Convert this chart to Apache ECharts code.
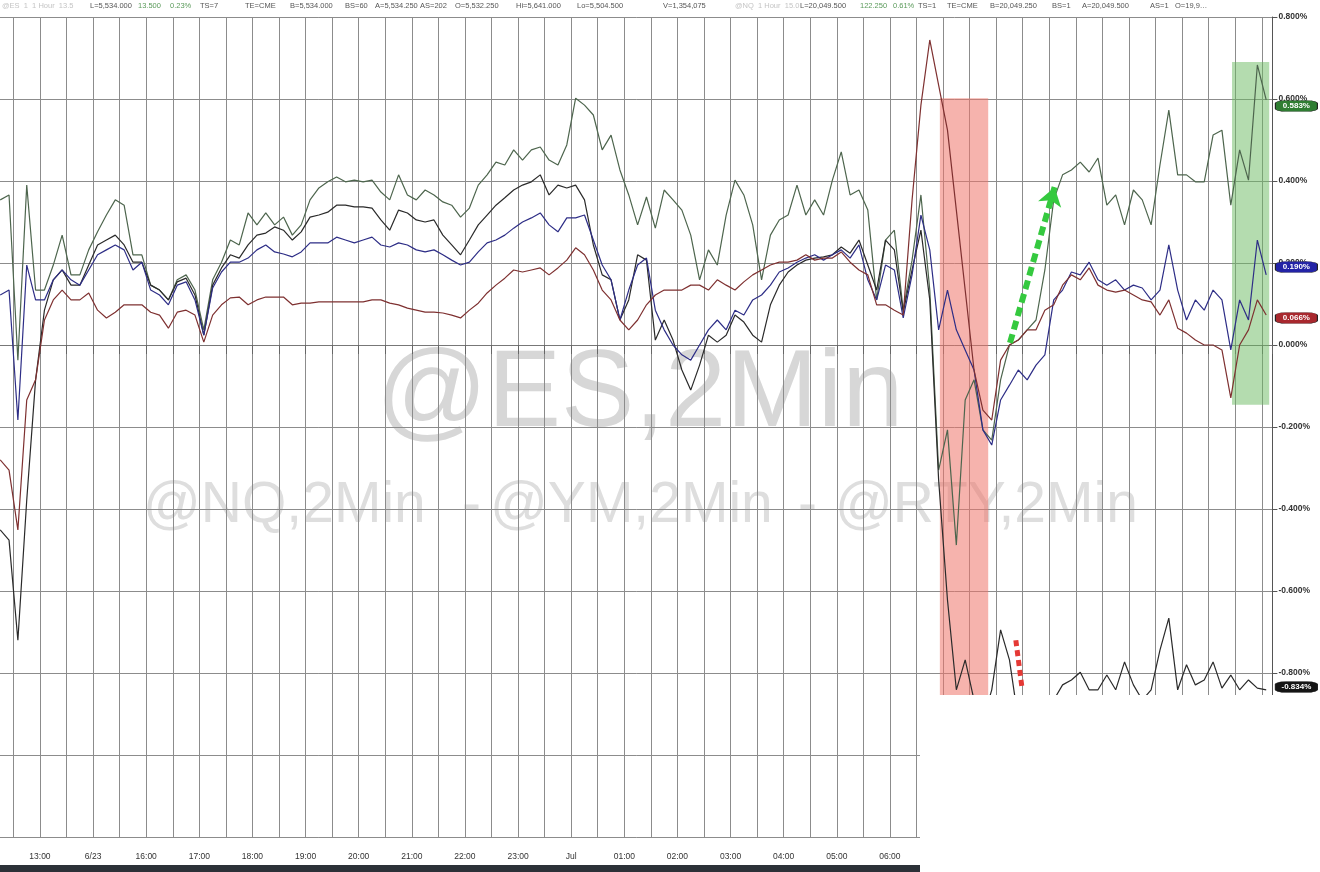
<!DOCTYPE html>
<html><head><meta charset="utf-8">
<script src="https://cdn.jsdelivr.net/npm/echarts@6/dist/echarts.min.js"></script>
<style>html,body{margin:0;padding:0;background:#fff}#c{width:1320px;height:872px}</style>
</head><body><div id="c"></div>
<script>
// ---- data ----
const hourLabels = ["13:00","6/23","16:00","17:00","18:00","19:00","20:00","21:00","22:00","23:00","Jul","01:00","02:00","03:00","04:00","05:00","06:00"];
const START_HOUR = 0.25;      // first sample (hours after 12:00 on the axis)
const STEP_HOUR = 1 / 6;      // 10-minute samples
const X_MIN = 0.5;            // first half-hour gridline
const X_VIEW_MIN = 0.2466;    // left edge of the plot
const X_MAX = 24.2;

const nq = [0.354,0.366,-0.037,0.390,0.134,0.134,0.195,0.268,0.171,0.171,
0.232,0.276,0.317,0.354,0.341,0.220,0.220,0.146,0.134,0.110,
0.159,0.171,0.134,0.037,0.159,0.202,0.256,0.244,0.322,0.293,
0.322,0.293,0.312,0.268,0.293,0.354,0.383,0.398,0.410,0.398,
0.402,0.398,0.402,0.373,0.354,0.415,0.366,0.354,0.378,0.366,
0.349,0.341,0.312,0.334,0.390,0.415,0.446,0.439,0.476,0.451,
0.476,0.483,0.451,0.439,0.488,0.602,0.585,0.561,0.476,0.512,
0.427,0.366,0.293,0.361,0.285,0.378,0.354,0.329,0.268,0.159,
0.232,0.195,0.317,0.402,0.366,0.293,0.159,0.268,0.305,0.317,
0.390,0.317,0.354,0.317,0.402,0.471,0.366,0.378,0.329,0.110,
0.256,0.280,0.085,0.207,0.366,0.134,-0.305,-0.207,-0.488,-0.134,
-0.085,-0.207,-0.232,-0.085,0.000,0.012,0.037,0.061,0.183,0.354,
0.415,0.427,0.446,0.422,0.456,0.341,0.366,0.293,0.378,0.354,
0.293,0.439,0.573,0.415,0.415,0.398,0.398,0.512,0.524,0.341,
0.476,0.402,0.683,0.598];

const rty = [-0.451,-0.476,-0.720,-0.378,-0.085,0.085,0.159,0.183,0.146,0.146,
0.195,0.244,0.256,0.268,0.244,0.202,0.202,0.146,0.134,0.110,
0.154,0.163,0.122,0.024,0.146,0.188,0.220,0.212,0.244,0.268,
0.273,0.288,0.280,0.256,0.276,0.312,0.317,0.324,0.341,0.341,
0.337,0.337,0.334,0.305,0.280,0.329,0.322,0.305,0.300,0.305,
0.268,0.244,0.220,0.256,0.293,0.317,0.341,0.359,0.378,0.390,
0.398,0.415,0.366,0.390,0.383,0.390,0.354,0.244,0.171,0.159,
0.061,0.110,0.220,0.207,0.012,0.061,0.012,-0.061,-0.110,-0.049,
0.024,0.007,0.024,0.073,0.056,0.024,0.007,0.098,0.146,0.178,
0.195,0.207,0.212,0.215,0.220,0.239,0.224,0.256,0.195,0.134,
0.256,0.232,0.080,0.183,0.280,0.110,-0.329,-0.622,-0.841,-0.768,
-0.866,-0.915,-0.841,-0.695,-0.768,-0.915,-0.915,-0.915,-0.890,-0.866,
-0.829,-0.817,-0.798,-0.841,-0.841,-0.805,-0.841,-0.773,-0.829,-0.866,
-0.841,-0.744,-0.666,-0.841,-0.780,-0.829,-0.817,-0.773,-0.837,-0.805,
-0.841,-0.817,-0.837,-0.841];

const es = [0.122,0.134,-0.183,0.195,0.110,0.110,0.159,0.183,0.159,0.146,
0.183,0.220,0.232,0.244,0.232,0.183,0.202,0.134,0.122,0.098,
0.146,0.154,0.110,0.024,0.139,0.178,0.202,0.202,0.212,0.232,
0.244,0.227,0.222,0.215,0.227,0.249,0.249,0.249,0.263,0.256,
0.249,0.256,0.263,0.244,0.239,0.249,0.244,0.232,0.227,0.232,
0.220,0.207,0.195,0.202,0.227,0.249,0.256,0.268,0.285,0.300,
0.310,0.322,0.293,0.276,0.310,0.310,0.317,0.256,0.195,0.159,
0.061,0.134,0.195,0.212,0.085,0.037,0.000,-0.024,-0.037,0.000,
0.037,0.061,0.037,0.085,0.073,0.110,0.122,0.146,0.178,0.188,
0.202,0.212,0.220,0.207,0.220,0.232,0.212,0.244,0.159,0.110,
0.195,0.183,0.066,0.171,0.317,0.232,0.037,0.134,0.037,-0.012,
-0.061,-0.207,-0.244,-0.134,-0.098,-0.061,-0.085,-0.049,-0.024,0.110,
0.134,0.178,0.171,0.202,0.159,0.146,0.159,0.134,0.146,0.139,
0.110,0.134,0.244,0.134,0.061,0.110,0.085,0.134,0.110,-0.012,
0.110,0.061,0.256,0.171];

const ym = [-0.280,-0.305,-0.451,-0.134,-0.085,0.061,0.110,0.134,0.110,0.110,
0.127,0.085,0.066,0.080,0.098,0.098,0.098,0.080,0.073,0.041,
0.080,0.085,0.073,0.007,0.073,0.098,0.115,0.117,0.098,0.110,
0.117,0.117,0.117,0.098,0.102,0.102,0.105,0.105,0.105,0.105,
0.105,0.105,0.110,0.110,0.102,0.098,0.090,0.085,0.080,0.080,
0.078,0.073,0.066,0.085,0.102,0.127,0.146,0.163,0.183,0.178,
0.183,0.188,0.171,0.188,0.207,0.237,0.220,0.183,0.134,0.110,
0.061,0.037,0.061,0.098,0.122,0.134,0.134,0.134,0.146,0.146,
0.134,0.159,0.146,0.134,0.154,0.171,0.183,0.195,0.202,0.202,
0.207,0.220,0.207,0.212,0.212,0.227,0.202,0.183,0.171,0.098,
0.098,0.085,0.073,0.354,0.585,0.744,0.634,0.524,0.329,0.134,
-0.061,-0.159,-0.183,-0.037,0.000,0.012,0.037,0.037,0.085,0.098,
0.146,0.171,0.159,0.188,0.146,0.134,0.129,0.134,0.122,0.110,
0.105,0.073,0.110,0.041,0.029,0.012,0.000,0.000,-0.012,-0.129,
0.000,0.037,0.110,0.073];

// last-value tags on the price scale
const tagValues = [0.583, 0.190, 0.066, -0.834];

// shaded zones and annotations (axis units: hours, %)
const redZone = [[17.94, 0.602], [18.85, -0.86]];
const greenZone = [[23.44, 0.690], [24.14, -0.146]];
const greenArrow = [[19.26, 0.005], [20.10, 0.385]];
const redDash = [[19.37, -0.72], [19.49, -0.84]];

// ---- chart ----
const chart = echarts.init(document.getElementById('c'), null, {renderer: 'canvas'});
const toPairs = vals => vals.map((v, k) => [START_HOUR + k * STEP_HOUR, v]);
const fmtPct = v => (Math.abs(v) < 1e-9 ? 0 : v).toFixed(3) + '%';

function tag(value, color) {
  return {
    symbol: 'roundRect', symbolSize: [42, 11], symbolOffset: [24, 0], silent: true,
    itemStyle: {color: color, borderColor: '#222', borderWidth: 0.6},
    label: {show: true, position: 'inside', color: '#fff', fontSize: 8, fontWeight: 'bold',
            fontFamily: 'Liberation Sans', formatter: p => p.name},
    data: [{name: fmtPct(value), coord: [X_MAX, value]}]
  };
}

function lineSeries(name, vals, color, tagVal, tagColor, extra) {
  return Object.assign({
    name: name, type: 'line', xAxisIndex: 1, yAxisIndex: 1,
    data: toPairs(vals), showSymbol: false, symbol: 'none',
    clip: false, silent: true, z: 3,
    lineStyle: {color: color, width: 1.2}, itemStyle: {color: color},
    emphasis: {disabled: true},
    markPoint: tag(tagVal, tagColor)
  }, extra || {});
}

const headerPieces = [
  ['@ES  1  1 Hour  13.5', 2, '#c4c4c4'],
  ['L=5,534.000', 90, '#555'], ['13.500', 138, '#5a9a5a'], ['0.23%', 170, '#5a9a5a'],
  ['TS=7', 200, '#555'], ['TE=CME', 245, '#555'], ['B=5,534.000', 290, '#555'],
  ['BS=60', 345, '#555'], ['A=5,534.250', 375, '#555'], ['AS=202', 420, '#555'],
  ['O=5,532.250', 455, '#555'], ['Hi=5,641.000', 516, '#555'], ['Lo=5,504.500', 577, '#555'],
  ['V=1,354,075', 663, '#555'], ['@NQ  1 Hour  15.0', 735, '#c4c4c4'],
  ['L=20,049.500', 800, '#555'], ['122.250', 860, '#5a9a5a'], ['0.61%', 893, '#5a9a5a'],
  ['TS=1', 918, '#555'], ['TE=CME', 947, '#555'], ['B=20,049.250', 990, '#555'],
  ['BS=1', 1052, '#555'], ['A=20,049.500', 1082, '#555'], ['AS=1', 1150, '#555'],
  ['O=19,9\u2026', 1175, '#555']
];

const wmFont = '"Liberation Sans", Arial, sans-serif';
const graphics = [
  {type: 'text', z: -1, silent: true, style: {text: '@ES,2Min', x: 376, y: 396, textVerticalAlign: 'middle',
    font: '110px ' + wmFont, fill: '#d7d7d7'}},
  {type: 'text', z: -1, silent: true, style: {text: '@NQ,2Min', x: 143, y: 506, textVerticalAlign: 'middle',
    font: '57px ' + wmFont, fill: '#dedede'}},
  {type: 'text', z: -1, silent: true, style: {text: '-', x: 462, y: 506, textVerticalAlign: 'middle',
    font: '57px ' + wmFont, fill: '#dedede'}},
  {type: 'text', z: -1, silent: true, style: {text: '@YM,2Min', x: 490, y: 506, textVerticalAlign: 'middle',
    font: '57px ' + wmFont, fill: '#dedede'}},
  {type: 'text', z: -1, silent: true, style: {text: '-', x: 798, y: 506, textVerticalAlign: 'middle',
    font: '57px ' + wmFont, fill: '#dedede'}},
  {type: 'text', z: -1, silent: true, style: {text: '@RTY,2Min', x: 835, y: 506, textVerticalAlign: 'middle',
    font: '57px ' + wmFont, fill: '#dedede'}},
  {type: 'rect', z: 100, silent: true, shape: {x: 920, y: 695, width: 400, height: 177}, style: {fill: '#ffffff'}},
  {type: 'rect', z: 101, silent: true, shape: {x: 0, y: 865, width: 920, height: 7}, style: {fill: '#2c3138'}}
].concat(headerPieces.map(p => ({
  type: 'text', z: 10, silent: true,
  style: {text: p[0], x: p[1], y: 6, textVerticalAlign: 'middle',
          font: '7.5px "Liberation Sans", Arial, sans-serif', fill: p[2]}
})));

const gridLineStyle = {color: '#8c8c8c', width: 1};
const option = {
  backgroundColor: '#ffffff',
  animation: false,
  grid: [
    {left: 13.4, right: 47.6, top: 17, bottom: 35},   // time scale, half-hour gridlines
    {left: 0, right: 47.6, top: 17, bottom: 35}       // full plot area for the data
  ],
  xAxis: [
    {
      gridIndex: 0, type: 'value', min: X_MIN, max: X_MAX, interval: 0.5,
      axisLine: {show: false},
      axisTick: {show: true, length: 9, lineStyle: {color: '#666'}},
      axisLabel: {fontSize: 8.5, color: '#333', margin: 15, fontFamily: 'Liberation Sans',
        showMinLabel: true, showMaxLabel: true,
        formatter: v => { const k = Math.round(v);
          return (Math.abs(v - k) < 1e-6 && k >= 1 && k <= hourLabels.length) ? hourLabels[k - 1] : ''; }},
      splitLine: {show: true, lineStyle: gridLineStyle}
    },
    {
      gridIndex: 1, type: 'value', min: X_VIEW_MIN, max: X_MAX,
      axisLine: {show: true, lineStyle: {color: '#777'}},
      axisTick: {show: false}, axisLabel: {show: false}, splitLine: {show: false}
    }
  ],
  yAxis: [
    {
      gridIndex: 0, type: 'value', min: -1.2, max: 0.8, interval: 0.2,
      axisLine: {show: false}, axisTick: {show: false}, axisLabel: {show: false}, splitLine: {show: false}
    },
    {
      gridIndex: 1, type: 'value', position: 'right', min: -1.2, max: 0.8, interval: 0.2,
      axisLine: {show: true, lineStyle: {color: '#555', width: 1}},
      axisTick: {show: true, length: 5, lineStyle: {color: '#555'}},
      axisLabel: {margin: 6, fontSize: 8.5, fontWeight: 'bold', color: '#333', fontFamily: 'Liberation Sans',
        formatter: fmtPct},
      splitLine: {show: true, lineStyle: gridLineStyle}
    }
  ],
  graphic: graphics,
  series: [
    lineSeries('@NQ,2Min', nq, '#4d654d', tagValues[0], '#2f7d32', {
      markArea: {silent: true, data: [
        [{coord: redZone[0], itemStyle: {color: 'rgba(239,117,106,0.55)'}}, {coord: redZone[1]}],
        [{coord: greenZone[0], itemStyle: {color: 'rgba(105,185,95,0.5)'}}, {coord: greenZone[1]}]
      ]},
      markLine: {silent: true, symbol: ['none', 'arrow'], symbolSize: [16, 16], label: {show: false},
        emphasis: {disabled: true}, animation: false,
        data: [
          [{coord: greenArrow[0], symbol: 'none', lineStyle: {color: '#35c93f', width: 6, type: [9, 5]}},
           {coord: greenArrow[1], symbol: 'arrow', symbolSize: 18}],
          [{coord: redDash[0], symbol: 'none', lineStyle: {color: '#e53935', width: 5, type: [6, 4]}},
           {coord: redDash[1], symbol: 'none'}]
        ]}
    }),
    lineSeries('@RTY,2Min', rty, '#2a2a2a', tagValues[3], '#151515'),
    lineSeries('@ES,2Min', es, '#2d2d86', tagValues[1], '#2323a6'),
    lineSeries('@YM,2Min', ym, '#7e3030', tagValues[2], '#a8282e')
  ]
};
chart.setOption(option);
</script></body></html>
